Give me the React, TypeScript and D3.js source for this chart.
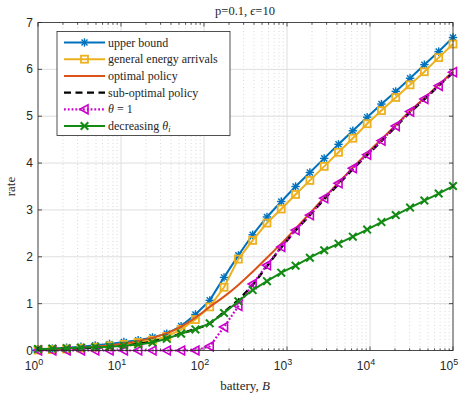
import * as d3 from "d3";

// battery sizes B (marker positions)
const battery = [
    1, 1.487, 2.212, 3.29, 4.894, 7.279, 10.83, 16.1, 23.95, 35.62, 52.98,
    78.8, 117.2, 174.3, 259.3, 385.7, 573.6, 853.2, 1269, 1887, 2807, 4175,
    6210, 9237, 13738, 20434, 30392, 45204, 67234, 100000,
];

const upperBound = [
    0.02, 0.04, 0.06, 0.08, 0.11, 0.14, 0.18, 0.22, 0.28, 0.36, 0.52, 0.77,
    1.07, 1.56, 2.03, 2.47, 2.85, 3.18, 3.5, 3.8, 4.1, 4.4, 4.69, 4.98, 5.26,
    5.53, 5.81, 6.1, 6.38, 6.68,
];
const generalArrivals = [
    0.01, 0.02, 0.03, 0.05, 0.07, 0.1, 0.13, 0.17, 0.22, 0.3, 0.45, 0.66, 0.93,
    1.35, 1.95, 2.35, 2.72, 3.02, 3.33, 3.63, 3.93, 4.23, 4.53, 4.84, 5.12, 5.4,
    5.67, 5.95, 6.25, 6.54,
];
const optimalPolicy = [
    0.0, 0.02, 0.04, 0.06, 0.08, 0.11, 0.15, 0.2, 0.27, 0.37, 0.51, 0.7, 0.93,
    1.15, 1.4, 1.68, 1.98, 2.28, 2.6, 2.93, 3.26, 3.58, 3.9, 4.21, 4.51, 4.81,
    5.11, 5.39, 5.67, 5.95,
];
const subOptimal = [
    0.02, 0.03, 0.04, 0.05, 0.06, 0.08, 0.1, 0.14, 0.19, 0.27, 0.36, 0.46, 0.58,
    0.82, 1.08, 1.4, 1.8, 2.2, 2.56, 2.89, 3.23, 3.55, 3.87, 4.17, 4.47, 4.78,
    5.08, 5.36, 5.65, 5.93,
];
const thetaOne = [
    0, 0, 0, 0, 0, 0, 0, 0, 0, 0, 0, 0, 0.09, 0.5, 0.95, 1.42, 1.82, 2.21,
    2.57, 2.89, 3.25, 3.57, 3.89, 4.18, 4.48, 4.79, 5.1, 5.37, 5.65, 5.94,
];
const decreasingTheta = [
    0.03, 0.04, 0.05, 0.06, 0.07, 0.08, 0.1, 0.13, 0.17, 0.25, 0.36, 0.45, 0.58,
    0.8, 1.05, 1.29, 1.48, 1.66, 1.81, 1.98, 2.14, 2.28, 2.43, 2.58, 2.74, 2.89,
    3.05, 3.2, 3.35, 3.51,
];

const xTickExps = [0, 1, 2, 3, 4, 5];
const yTicks = [0, 1, 2, 3, 4, 5, 6, 7];

const margin = { top: 22.5, right: 8, bottom: 45.5, left: 38 };
const W = 461;
const H = 396;

const BLUE = "#0072BD";
const ORANGE = "#EDB120";
const RED = "#D95319";
const MAGENTA = "#CC00CC";
const GREEN = "#138A13";
const AXIS = "#262626";
const SERIF = "'Liberation Serif', 'DejaVu Serif', serif";

type Marker = "star" | "square" | "tri" | "x" | "none";

function drawMarker(kind: Marker, cx: number, cy: number, color: string, key: string) {
    if (kind === "star") {
        const r = 4.2;
        const d = r * 0.72;
        return (
            <g key={key} stroke={color} strokeWidth={1.4}>
                <line x1={cx - r} y1={cy} x2={cx + r} y2={cy} />
                <line x1={cx} y1={cy - r} x2={cx} y2={cy + r} />
                <line x1={cx - d} y1={cy - d} x2={cx + d} y2={cy + d} />
                <line x1={cx - d} y1={cy + d} x2={cx + d} y2={cy - d} />
            </g>
        );
    }
    if (kind === "square") {
        return (
            <rect key={key} x={cx - 3.5} y={cy - 3.5} width={7} height={7}
                fill="none" stroke={color} strokeWidth={1.8} />
        );
    }
    if (kind === "tri") {
        return (
            <path key={key}
                d={`M${cx - 4.5},${cy} L${cx + 3.5},${cy - 4.5} L${cx + 3.5},${cy + 4.5} Z`}
                fill="none" stroke={color} strokeWidth={1.6} />
        );
    }
    if (kind === "x") {
        const r = 3.8;
        return (
            <g key={key} stroke={color} strokeWidth={2}>
                <line x1={cx - r} y1={cy - r} x2={cx + r} y2={cy + r} />
                <line x1={cx - r} y1={cy + r} x2={cx + r} y2={cy - r} />
            </g>
        );
    }
    return null;
}

export default function App() {
    const x = d3
        .scaleLog()
        .domain([1, 1e5])
        .range([margin.left, W - margin.right]);
    const y = d3
        .scaleLinear()
        .domain([0, 7])
        .range([H - margin.bottom, margin.top]);

    const x0 = margin.left;
    const x1 = W - margin.right;
    const y0 = H - margin.bottom;
    const y1 = margin.top;

    const series = [
        { name: "upper bound", vals: upperBound, color: BLUE, marker: "star" as Marker, dash: "", width: 2, smooth: false },
        { name: "general energy arrivals", vals: generalArrivals, color: ORANGE, marker: "square" as Marker, dash: "", width: 2, smooth: false },
        { name: "optimal policy", vals: optimalPolicy, color: RED, marker: "none" as Marker, dash: "", width: 2, smooth: true },
        { name: "sub-optimal policy", vals: subOptimal, color: "#000000", marker: "none" as Marker, dash: "7,4.5", width: 2.4, smooth: true },
        { name: "theta", vals: thetaOne, color: MAGENTA, marker: "tri" as Marker, dash: "1.8,2", width: 2.2, smooth: false },
        { name: "decreasing", vals: decreasingTheta, color: GREEN, marker: "x" as Marker, dash: "", width: 2, smooth: false },
    ];

    const minorTicks: number[] = [];
    for (let e = 0; e < 5; e++) {
        for (let m = 2; m <= 9; m++) minorTicks.push(m * Math.pow(10, e));
    }

    const lineFor = (smooth: boolean) =>
        d3
            .line<number>()
            .x((_, i) => x(battery[i]))
            .y((v) => y(v))
            .curve(smooth ? d3.curveMonotoneX : d3.curveLinear);

    const legendX = 57;
    const legendY = 31.5;
    const legendRow = 16.7;

    const legendLabels = [
        <tspan>upper bound</tspan>,
        <tspan>general energy arrivals</tspan>,
        <tspan>optimal policy</tspan>,
        <tspan>sub-optimal policy</tspan>,
        <>
            <tspan fontStyle="italic">θ</tspan>
            <tspan> = 1</tspan>
        </>,
        <>
            <tspan>decreasing </tspan>
            <tspan fontStyle="italic">θ</tspan>
            <tspan fontStyle="italic" fontSize={8} dy={2}>i</tspan>
        </>,
    ];

    return (
        <svg width={W} height={H} style={{ position: "absolute", left: 0, top: 0, background: "#fff" }}>
            <rect x={0} y={0} width={W} height={H} fill="#fff" />
            {/* grid */}
            <g>
                {minorTicks.map((t) => (
                    <line key={"mg" + t} x1={x(t)} x2={x(t)} y1={y0} y2={y1}
                        stroke="#c8c8c8" strokeWidth={0.7} strokeDasharray="1,2.5" />
                ))}
                {xTickExps.map((e) => (
                    <line key={"xg" + e} x1={x(Math.pow(10, e))} x2={x(Math.pow(10, e))} y1={y0} y2={y1}
                        stroke="#dedede" strokeWidth={1} />
                ))}
                {yTicks.map((t) => (
                    <line key={"yg" + t} x1={x0} x2={x1} y1={y(t)} y2={y(t)} stroke="#dedede" strokeWidth={1} />
                ))}
            </g>

            {/* series */}
            {series.map((s) => (
                <g key={s.name}>
                    <path d={lineFor(s.smooth)(s.vals) ?? ""} fill="none" stroke={s.color}
                        strokeWidth={s.width} strokeDasharray={s.dash || undefined} />
                    {s.vals.map((v, i) => drawMarker(s.marker, x(battery[i]), y(v), s.color, s.name + i))}
                </g>
            ))}

            {/* axes box and ticks */}
            <g stroke={AXIS} strokeWidth={0.8}>
                <rect x={x0} y={y1} width={x1 - x0} height={y0 - y1} fill="none" />
                {xTickExps.map((e) => (
                    <g key={"xt" + e}>
                        <line x1={x(Math.pow(10, e))} x2={x(Math.pow(10, e))} y1={y0} y2={y0 - 4} />
                        <line x1={x(Math.pow(10, e))} x2={x(Math.pow(10, e))} y1={y1} y2={y1 + 4} />
                    </g>
                ))}
                {minorTicks.map((t) => (
                    <g key={"mt" + t}>
                        <line x1={x(t)} x2={x(t)} y1={y0} y2={y0 - 2.2} />
                        <line x1={x(t)} x2={x(t)} y1={y1} y2={y1 + 2.2} />
                    </g>
                ))}
                {yTicks.map((t) => (
                    <g key={"yt" + t}>
                        <line x1={x0} x2={x0 + 4} y1={y(t)} y2={y(t)} />
                        <line x1={x1} x2={x1 - 4} y1={y(t)} y2={y(t)} />
                    </g>
                ))}
            </g>

            {/* tick labels */}
            <g fontFamily="'Liberation Sans', Arial, sans-serif" fill={AXIS}>
                {xTickExps.map((e) => (
                    <text key={"xl" + e} x={x(Math.pow(10, e)) - 4} y={370} fontSize={12} textAnchor="middle">
                        10<tspan fontSize={9} dy={-5}>{e}</tspan>
                    </text>
                ))}
                {yTicks.map((t) => (
                    <text key={"yl" + t} x={33} y={y(t) + 4} fontSize={12} textAnchor="end">
                        {t}
                    </text>
                ))}
            </g>

            {/* titles */}
            <g fontFamily={SERIF} fill={AXIS}>
                <text x={245} y={15} fontSize={12.5} textAnchor="middle">
                    p=0.1, <tspan fontStyle="italic">ϵ</tspan>=10
                </text>
                <text x={245} y={390} fontSize={13} textAnchor="middle">
                    battery, <tspan fontStyle="italic">B</tspan>
                </text>
                <text transform={`translate(15,${(y0 + y1) / 2}) rotate(-90)`} fontSize={13} textAnchor="middle">
                    rate
                </text>
            </g>

            {/* legend */}
            <g>
                <rect x={legendX} y={legendY} width={173} height={104} fill="#fff" stroke={AXIS} strokeWidth={0.8} />
                {series.map((s, i) => {
                    const ly = legendY + 11 + i * legendRow;
                    return (
                        <g key={"lg" + s.name}>
                            <line x1={legendX + 7} x2={legendX + 48} y1={ly} y2={ly} stroke={s.color}
                                strokeWidth={s.width} strokeDasharray={s.dash || undefined} />
                            {drawMarker(s.marker, legendX + 27.5, ly, s.color, "lm" + i)}
                            <text x={legendX + 51} y={ly + 4} fontSize={12} fontFamily={SERIF} fill={AXIS}>
                                {legendLabels[i]}
                            </text>
                        </g>
                    );
                })}
            </g>
        </svg>
    );
}
